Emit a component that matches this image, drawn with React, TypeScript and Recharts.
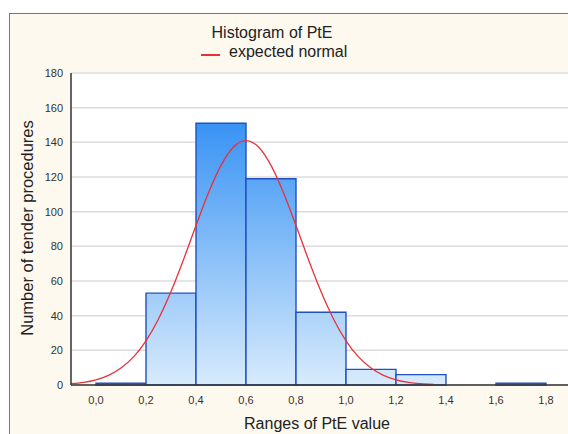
import { CartesianGrid, ComposedChart, Line, ReferenceArea, XAxis, YAxis } from "recharts";

// histogram bins (left edge) and counts
const binStarts = [0.0, 0.2, 0.4, 0.6, 0.8, 1.0, 1.2, 1.4, 1.6];
const binCounts = [1, 53, 151, 119, 42, 9, 6, 0, 1];
const BIN_WIDTH = 0.2;

// expected normal curve
const curveX = [
  -0.1, -0.05, 0.0, 0.05, 0.1, 0.15, 0.2, 0.25, 0.3, 0.35, 0.4, 0.45, 0.5, 0.55, 0.6,
  0.65, 0.7, 0.75, 0.8, 0.85, 0.9, 0.95, 1.0, 1.05, 1.1, 1.15, 1.2, 1.25, 1.3, 1.35,
];
const curveY = [
  0.75, 1.5, 3.0, 5.6, 9.8, 16.2, 25.5, 38.1, 53.9, 72.3, 92, 110.9, 126.7, 137.3, 141,
  137.3, 126.7, 110.9, 92, 72.3, 53.9, 38.1, 25.5, 16.2, 9.8, 5.6, 3.0, 1.5, 0.75, 0.35,
];

const xTicks = [0, 0.2, 0.4, 0.6, 0.8, 1.0, 1.2, 1.4, 1.6, 1.8];
const yTicks = [0, 20, 40, 60, 80, 100, 120, 140, 160, 180];

const FONT = "'Liberation Sans', Arial, sans-serif";

const curveData = curveX.map((x, i) => ({ x, y: curveY[i] }));
const bins = binStarts
  .map((start, i) => ({ start, end: start + BIN_WIDTH, count: binCounts[i] }))
  .filter((b) => b.count > 0);

const fmtX = (v: number) => v.toFixed(1).replace(".", ",");

export default function App() {
  return (
    <div
      style={{
        position: "fixed",
        left: 0,
        top: 0,
        width: 568,
        height: 434,
        overflow: "hidden",
        background: "#fff",
        fontFamily: FONT,
      }}
    >
      <div
        style={{
          position: "absolute",
          left: 9,
          top: 13,
          width: 700,
          height: 500,
          border: "1.5px solid #767676",
          background: "#fdf9ee",
        }}
      />
      <div style={{ position: "absolute", left: 0, top: 0 }}>
        <ComposedChart
          width={620}
          height={434}
          data={curveData}
          margin={{ top: 73, right: 24, bottom: 19, left: 31 }}
        >
          <defs>
            <linearGradient id="barFill" gradientUnits="userSpaceOnUse" x1="0" y1="73" x2="0" y2="385">
              <stop offset="0%" stopColor="#1a82f2" />
              <stop offset="100%" stopColor="#d8ebfc" />
            </linearGradient>
          </defs>
          <CartesianGrid vertical={false} stroke="#dcdcdc" strokeWidth={1.5} fill="#ffffff" />
          <XAxis
            dataKey="x"
            type="number"
            domain={[-0.1, 2.0]}
            ticks={xTicks}
            tickFormatter={fmtX}
            interval={0}
            height={30}
            tickLine={false}
            tickSize={6}
            tickMargin={5}
            axisLine={{ stroke: "#333", strokeWidth: 1.5 }}
            tick={{ fontSize: 11, fill: "#333", fontFamily: FONT }}
            allowDataOverflow
          />
          <XAxis
            xAxisId="top"
            orientation="top"
            type="number"
            domain={[-0.1, 2.0]}
            ticks={xTicks}
            height={0}
            mirror
            tick={false}
            tickSize={3}
            tickLine={{ stroke: "#444" }}
            axisLine={{ stroke: "#444", strokeWidth: 1.5 }}
            allowDataOverflow
          />
          <YAxis
            type="number"
            domain={[0, 180]}
            ticks={yTicks}
            interval={0}
            width={40}
            tickLine={false}
            axisLine={{ stroke: "#333", strokeWidth: 1.5 }}
            tick={{ fontSize: 11, fill: "#333", fontFamily: FONT }}
          />
          {bins.map((b) => (
            <ReferenceArea
              key={b.start}
              x1={b.start}
              x2={b.end}
              y1={0}
              y2={b.count}
              fill="url(#barFill)"
              fillOpacity={1}
              stroke="#2150c0"
              strokeWidth={1.4}
            />
          ))}
          <Line
            dataKey="y"
            type="monotone"
            stroke="#e8313a"
            strokeWidth={1.3}
            dot={false}
            isAnimationActive={false}
          />
        </ComposedChart>
      </div>

      <div
        style={{
          position: "absolute",
          left: 172,
          width: 200,
          top: 23,
          textAlign: "center",
          fontSize: 16,
          color: "#222",
          lineHeight: "20px",
        }}
      >
        Histogram of PtE
      </div>
      <div style={{ position: "absolute", left: 201, top: 54, width: 19, height: 1.5, background: "#e8313a" }} />
      <div
        style={{ position: "absolute", left: 229, top: 42, fontSize: 16, color: "#222", lineHeight: "20px" }}
      >
        expected normal
      </div>
      <div
        style={{
          position: "absolute",
          left: 27 - 150,
          top: 228 - 10,
          width: 300,
          textAlign: "center",
          fontSize: 16.5,
          color: "#222",
          lineHeight: "20px",
          transform: "rotate(-90deg)",
        }}
      >
        Number of tender procedures
      </div>
      <div
        style={{
          position: "absolute",
          left: 317 - 100,
          width: 200,
          top: 414,
          textAlign: "center",
          fontSize: 16,
          color: "#222",
          lineHeight: "20px",
        }}
      >
        Ranges of PtE value
      </div>
    </div>
  );
}
